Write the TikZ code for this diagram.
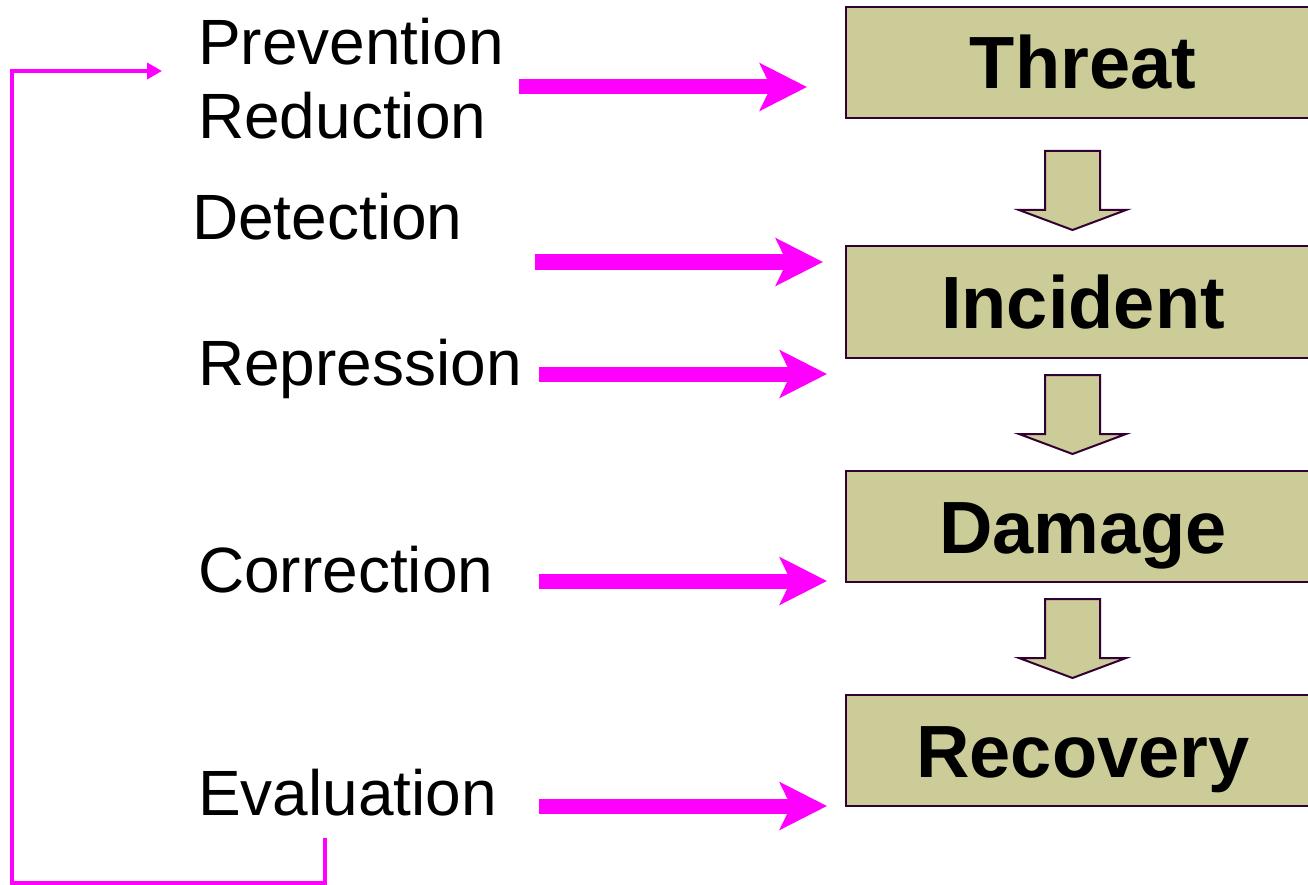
\documentclass[tikz,border=0pt]{standalone}
\usepackage{fontspec}
\setmainfont{Liberation Sans}
\usetikzlibrary{arrows.meta}
\definecolor{boxfill}{RGB}{204,204,153}
\definecolor{boxline}{RGB}{51,0,51}
\definecolor{mag}{RGB}{255,0,255}
\tikzset{
  stage/.style={draw=boxline, line width=2pt, fill=boxfill, minimum width=474pt,
    minimum height=111pt, inner sep=0pt, text height=53pt, text depth=0pt,
    font=\fontsize{74}{80}\selectfont\bfseries},
  measure/.style={anchor=base west, inner sep=0pt, font=\fontsize{64}{74}\selectfont},
  flow/.style={draw=mag, line width=15pt,
    -{Stealth[length=47pt, width=47pt, inset=11pt]}},
  feedback/.style={draw=mag, line width=3.5pt, -{Triangle[length=15pt, width=16pt]}},
  blockarrow/.style={draw=boxline, line width=2pt, fill=boxfill, line join=miter}
}
% down-pointing block arrow, #1 = top centre of the shaft
\newcommand\stagearrow[1]{%
  \path[blockarrow] (#1) ++(-27.5,0) -- ++(55,0) -- ++(0,59) -- ++(26,0)
    -- ++(-53.5,20) -- ++(-53.5,-20) -- ++(26,0) -- cycle;}
\begin{document}
\begin{tikzpicture}[x=1pt, y=-1pt]
\useasboundingbox (0,0) rectangle (1308,885);
\begin{scope}
\clip (0,0) rectangle (1308,885);

% stages
\node[stage] (threat)   at (1083,62.5)  {Threat};
\node[stage] (incident) at (1083,302)   {Incident};
\node[stage] (damage)   at (1083,526.5) {Damage};
\node[stage] (recovery) at (1083,750.5) {Recovery};

% block arrows between stages
\coordinate (a1) at (1072.5,151);
\coordinate (a2) at (1072.5,375);
\coordinate (a3) at (1072.5,599);
\stagearrow{a1}
\stagearrow{a2}
\stagearrow{a3}

% measures
\node[measure] (prev) at (198,65)  {Prevention};
\node[measure] (red)  at (198,139) {Reduction};
\node[measure] (det)  at (192,240) {Detection};
\node[measure] (rep)  at (198,385) {Repression};
\node[measure] (cor)  at (198,592) {Correction};
\node[measure] (eva)  at (198,815) {Evaluation};

% arrow end points
\coordinate (s1) at (519,87);  \coordinate (e1) at (807,87);
\coordinate (s2) at (535,262); \coordinate (e2) at (823,262);
\coordinate (s3) at (539,374); \coordinate (e3) at (827,374);
\coordinate (s4) at (539,581); \coordinate (e4) at (827,581);
\coordinate (s5) at (539,806); \coordinate (e5) at (827,806);
\draw[flow] (s1) -- (e1);
\draw[flow] (s2) -- (e2);
\draw[flow] (s3) -- (e3);
\draw[flow] (s4) -- (e4);
\draw[flow] (s5) -- (e5);

% feedback loop
\coordinate (fb0) at (325,838);
\coordinate (fb1) at (12,883);
\coordinate (fb2) at (162,71);
\draw[feedback] (fb0) |- (fb1) |- (fb2);
\end{scope}
\end{tikzpicture}
\end{document}
